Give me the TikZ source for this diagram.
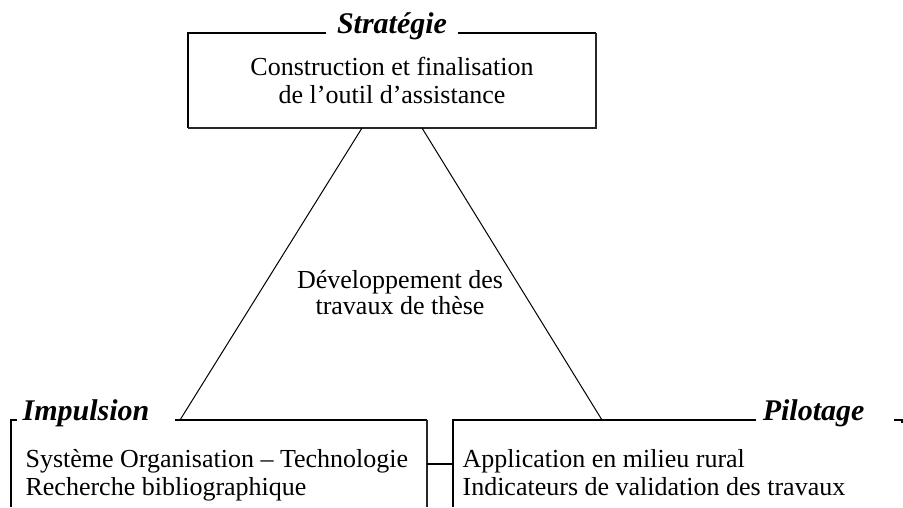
\documentclass[tikz,border=0pt]{standalone}
\usepackage{fontspec}
\setmainfont{Liberation Serif}
\begin{document}
\begin{tikzpicture}[x=1pt,y=-1pt,line width=1.2pt,
  body/.style={font=\fontsize{26}{30}\selectfont,inner sep=0pt},
  ttl/.style={font=\fontsize{30}{34}\selectfont\bfseries\itshape,inner sep=0pt},
  edge/.style={line width=1.7pt,black!85},
  tri/.style={line width=1pt}]
\useasboundingbox (0,0) rectangle (903,507);
% top box
\node[ttl,anchor=base] (strat) at (392,33) {Stratégie};
\draw ([xshift=-10pt]strat.base west) -- (188,33) -- (188,128);
\draw ([xshift=10pt]strat.base east) -- (596,33);
\draw[edge] (188,128) -- (596,128) -- (596,33);
\node[body,anchor=base] (c1) at (392,75) {Construction et finalisation};
\node[body,anchor=base] (c2) at (392,103) {de l’outil d’assistance};
% triangle
\coordinate (apexL) at (362,128);
\coordinate (apexR) at (422,128);
\coordinate (baseL) at (180,420);
\coordinate (baseR) at (602,420);
\draw[tri] (apexL) -- (baseL);
\draw[tri] (apexR) -- (baseR);
\node[body,anchor=base] (d1) at (400,288) {Développement des};
\node[body,anchor=base] (d2) at (400,314) {travaux de thèse};
% left box
\node[ttl,anchor=base west] (imp) at (22,420) {Impulsion};
\draw (17,420) -- (11,420) -- (11,507);
\draw (175,420) -- (427,420);
\draw[edge] (427,420) -- (427,507);
\node[body,anchor=base west] (l1) at (25,467) {Système Organisation – Technologie};
\node[body,anchor=base west] (l2) at (25,495) {Recherche bibliographique};
% connector
\coordinate (lbR) at (427,464);
\coordinate (rbL) at (453,464);
\draw (lbR) -- (rbL);
% right box
\node[ttl,anchor=base east] (pil) at (865,420) {Pilotage};
\draw (453,507) -- (453,420) -- ([xshift=-6pt]pil.base west);
\draw (894,420) -- (902,420) -- (902,423);
\node[body,anchor=base west] (r1) at (462,467) {Application en milieu rural};
\node[body,anchor=base west] (r2) at (462,495) {Indicateurs de validation des travaux};
\end{tikzpicture}
\end{document}
